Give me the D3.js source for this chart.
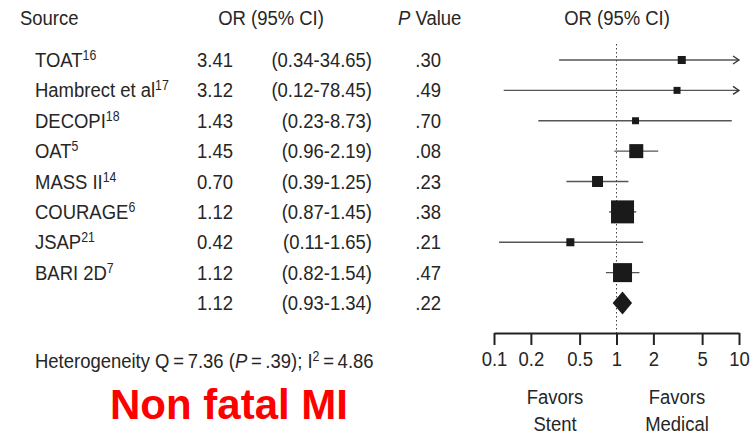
<!DOCTYPE html>
<html><head><meta charset="utf-8">
<script src="https://cdn.jsdelivr.net/npm/d3@7"></script>
<style>
html,body{margin:0;padding:0;background:#fff;}
svg text{font-family:"Liberation Sans Narrow","Arial Narrow","Liberation Sans",Arial,sans-serif;fill:#262626;}
</style></head>
<body>
<svg id="c" width="755" height="434"></svg>
<script>
const sources = ["TOAT","Hambrect et al","DECOPI","OAT","MASS II","COURAGE","JSAP","BARI 2D",""];
const refs = ["16","17","18","5","14","6","21","7",""];
const orValues = [3.41,3.12,1.43,1.45,0.70,1.12,0.42,1.12,1.12];
const ciLow = [0.34,0.12,0.23,0.96,0.39,0.87,0.11,0.82,0.93];
const ciHigh = [34.65,78.45,8.73,2.19,1.25,1.45,1.65,1.54,1.34];
const pValues = [".30",".49",".70",".08",".23",".38",".21",".47",".22"];
const weights = [4.5,3.4,3.4,13.7,8.4,36.9,4.5,25.2];
const axisTicks = [0.1,0.2,0.5,1,2,5,10];

const svg = d3.select("#c");
const x = d3.scaleLog().domain([0.1,10]).range([494,739]);
const y = d3.scaleLinear().domain([0,8]).range([60,303]);
const side = d3.scaleSqrt().domain([0,36.9]).range([0,23]);
const fmt = v => v.toFixed(2);
const fs = 21, sx = 0.88;

function txt(px, py, anchor) {
  return svg.append("text")
    .attr("transform", `translate(${px},${py}) scale(${sx},1)`)
    .attr("font-size", fs).attr("text-anchor", anchor || "start");
}

// headers
txt(20,25).text("Source");
txt(271,25,"middle").text("OR (95% CI)");
const ph = txt(398,25);
ph.append("tspan").attr("font-style","italic").text("P");
ph.append("tspan").text(" Value");
txt(617,25,"middle").text("OR (95% CI)");

// table rows
orValues.forEach((v,i)=>{
  const yy = y(i) + 7;
  if (sources[i]) {
    const t = txt(35,yy);
    t.append("tspan").text(sources[i]);
    t.append("tspan").attr("font-size",14).attr("dy",-7).text(refs[i]);
  }
  txt(197,yy).text(fmt(v));
  txt(372,yy,"end").text("(" + fmt(ciLow[i]) + "-" + fmt(ciHigh[i]) + ")");
  txt(441,yy,"end").text(pValues[i]);
});

// heterogeneity
const h = txt(35,368);
h.append("tspan").text("Heterogeneity Q\u2009=\u20097.36 (");
h.append("tspan").attr("font-style","italic").text("P");
h.append("tspan").text("\u2009=\u2009.39); I");
h.append("tspan").attr("font-size",14).attr("dy",-7).text("2");
h.append("tspan").attr("dy",7).text("\u2009=\u20094.86");

svg.append("text").attr("x",229).attr("y",419).attr("text-anchor","middle")
  .style("font-family","'Liberation Sans',Arial,sans-serif").style("fill","#ff0000")
  .attr("font-weight","bold").attr("font-size",42).text("Non fatal MI");

// reference line
svg.append("line").attr("x1",x(1)).attr("x2",x(1)).attr("y1",44).attr("y2",333)
  .attr("stroke","#444").attr("stroke-width",1).attr("stroke-dasharray","1.5,2.5");

// CI lines and squares
const maxX = x.domain()[1];
orValues.forEach((v,i)=>{
  if (i === 8) return;
  const hi = Math.min(ciHigh[i], maxX);
  svg.append("line").attr("x1",x(ciLow[i])).attr("x2",x(hi)).attr("y1",y(i)).attr("y2",y(i))
    .attr("stroke","#555").attr("stroke-width",1.4);
  if (ciHigh[i] > maxX) {
    svg.append("path").attr("d",`M${x(maxX)-6},${y(i)-4}L${x(maxX)},${y(i)}L${x(maxX)-6},${y(i)+4}`)
      .attr("fill","none").attr("stroke","#333").attr("stroke-width",1.3);
  }
  const s = side(weights[i]);
  svg.append("rect").attr("x",x(v)-s/2).attr("y",y(i)-s/2).attr("width",s).attr("height",s)
    .attr("fill","#1a1a1a");
});

// pooled diamond
{
  const i = 8, cy = y(i), hh = 11.5;
  svg.append("path").attr("d",`M${x(ciLow[i])},${cy}L${x(orValues[i])},${cy-hh}L${x(ciHigh[i])},${cy}L${x(orValues[i])},${cy+hh}Z`)
    .attr("fill","#1a1a1a");
}

// axis
const axis = d3.axisBottom(x).tickValues(axisTicks).tickFormat(d=>String(d)).tickSizeInner(12).tickSizeOuter(0).tickPadding(6);
const g = svg.append("g").attr("transform","translate(0,333)").call(axis);
g.select(".domain").attr("stroke","#222").attr("stroke-width",2);
g.selectAll(".tick line").attr("stroke","#222").attr("stroke-width",2);
g.selectAll(".tick text").attr("font-size",fs).attr("transform",`scale(${sx},1)`)
  .style("font-family","'Liberation Sans Narrow','Arial Narrow','Liberation Sans',Arial,sans-serif").attr("fill","#262626");

// favors labels
[["Favors","Stent",555],["Favors","Medical",677]].forEach(([a,b,cx])=>{
  txt(cx,404,"middle").text(a);
  txt(cx,431,"middle").text(b);
});
</script>
</body></html>
